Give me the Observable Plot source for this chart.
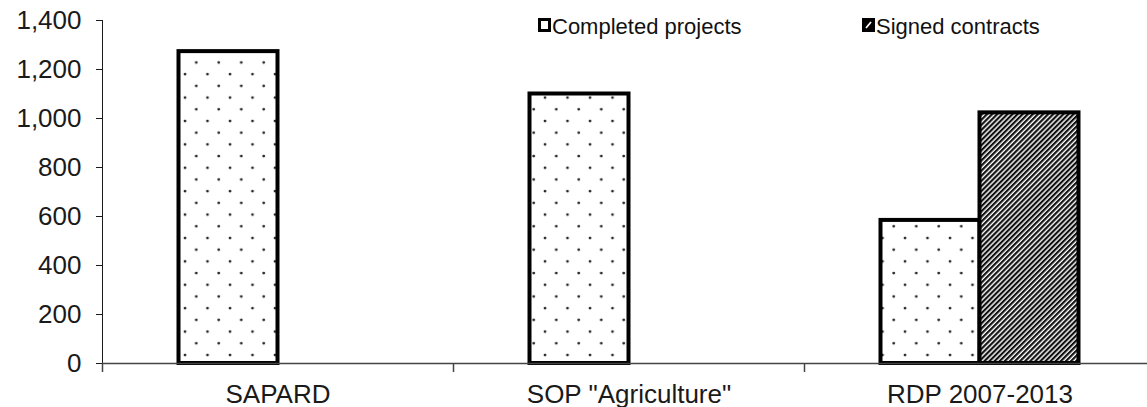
<!DOCTYPE html>
<html>
<head>
<meta charset="utf-8">
<script src="https://cdn.jsdelivr.net/npm/d3@7"></script>
<script src="https://cdn.jsdelivr.net/npm/@observablehq/plot@0.6"></script>
<style>
  html, body { margin: 0; padding: 0; background: white; overflow: hidden; }
  #wrap { position: relative; width: 1147px; height: 407px; }
  #chart [aria-label*="x-axis"] text { font-size: 26px; }
  #legend { position: absolute; left: 0; top: 0; pointer-events: none; }
</style>
</head>
<body>
<svg width="0" height="0" style="position:absolute">
  <defs>
    <pattern id="dots" patternUnits="userSpaceOnUse" width="22.5" height="23.4">
      <rect width="22.5" height="23.4" fill="white"/>
      <circle cx="5" cy="4" r="1.4" fill="#222"/>
      <circle cx="16.25" cy="15.7" r="1.4" fill="#222"/>
    </pattern>
    <pattern id="hatch" patternUnits="userSpaceOnUse" width="3.6" height="10" patternTransform="rotate(45)">
      <rect width="3.6" height="10" fill="white"/>
      <line x1="1.1" y1="0" x2="1.1" y2="10" stroke="#111" stroke-width="2.2"/>
    </pattern>
  </defs>
</svg>
<div id="wrap">
  <div id="chart"></div>
  <svg id="legend" width="1147" height="40"></svg>
</div>
<script>
// ---- data ----
const categories = ["SAPARD", "SOP \"Agriculture\"", "RDP 2007-2013"];
const completedProjects = [1273, 1100, 584];
const signedContracts = [null, null, 1023];
const seriesNames = ["Completed projects", "Signed contracts"];
const yTicks = [0, 200, 400, 600, 800, 1000, 1200, 1400];

// ---- layout ----
const W = 1147, H = 407;
const mL = 102, mT = 20, mB = 44;
const xRange = [102, 1155];
const bw = (xRange[1] - xRange[0]) / categories.length;
const barW = 99;

const completedRows = categories.map((c, i) => ({category: c, value: completedProjects[i]})).filter(d => d.value != null);
const signedRows = categories.map((c, i) => ({category: c, value: signedContracts[i]})).filter(d => d.value != null);

const chart = Plot.plot({
  width: W,
  height: H,
  marginLeft: mL,
  marginTop: mT,
  marginBottom: mB,
  marginRight: 0,
  style: {fontFamily: "'Liberation Sans', Arial, sans-serif", fontSize: "26px", color: "#1a1a1a", background: "white", overflow: "visible"},
  x: {domain: categories, range: xRange, padding: 0, tickSize: 0, tickPadding: 21, label: null},
  y: {domain: [0, 1400], ticks: yTicks, tickFormat: d3.format(","), tickSize: 6, tickPadding: 15, line: true, label: null},
  marks: [
    Plot.barY(completedRows, {x: "category", y: "value", fill: "url(#dots)", stroke: "black", strokeWidth: 4,
      insetLeft: bw / 2 - barW, insetRight: bw / 2}),
    Plot.barY(signedRows, {x: "category", y: "value", fill: "url(#hatch)", stroke: "black", strokeWidth: 4,
      insetLeft: bw / 2, insetRight: bw / 2 - barW}),
    Plot.ruleY([0], {stroke: "#444", strokeWidth: 1.5}),
    Plot.ruleX(categories, {x: d => d, y1: () => 0, y2: () => 0, dx: -bw / 2, insetBottom: -9, stroke: "#444", strokeWidth: 1.5})
  ]
});
document.getElementById("chart").appendChild(chart);

// ---- legend ----
const leg = d3.select("#legend");
const legendX = [538, 862];
const legendFill = ["white", "black"];
seriesNames.forEach((name, i) => {
  const g = leg.append("g").attr("transform", `translate(${legendX[i]},0)`);
  g.append("rect").attr("x", 1.5).attr("y", 19.5).attr("width", 10).attr("height", 11)
    .attr("fill", legendFill[i]).attr("stroke", "black").attr("stroke-width", 3);
  if (i === 1) {
    g.append("line").attr("x1", 4).attr("y1", 28).attr("x2", 9).attr("y2", 22)
      .attr("stroke", "white").attr("stroke-width", 1.8);
  }
  g.append("text").attr("x", 14).attr("y", 34)
    .attr("font-family", "'Liberation Sans', Arial, sans-serif").attr("font-size", 22)
    .attr("fill", "#111").text(name);
});
</script>
</body>
</html>
